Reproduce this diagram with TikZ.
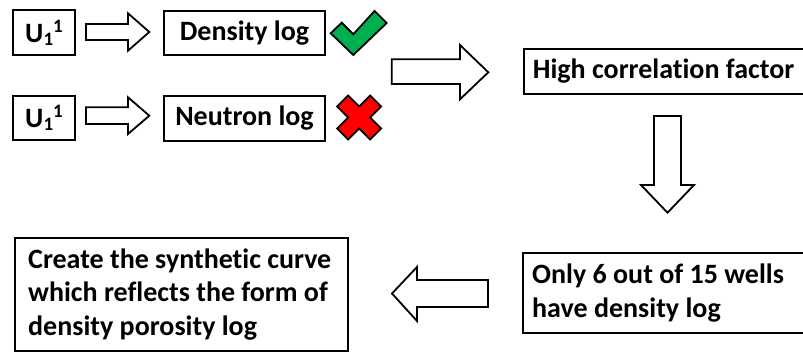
\documentclass[tikz,border=0pt]{standalone}
\usepackage{fontspec}
\setmainfont[Ligatures=NoCommon]{Carlito}
\definecolor{okgreen}{RGB}{0,176,80}
\definecolor{nored}{RGB}{255,0,0}
\newcommand{\smallone}[1]{\raisebox{#1}{\fontsize{19}{19}\selectfont 1}}
\begin{document}
\begin{tikzpicture}[x=1pt,y=-1pt,
  box/.style={draw=black, line width=2pt, inner sep=0pt, anchor=north west,
    font=\bfseries\fontsize{28}{33.5}\selectfont},
  txt/.style={inner sep=0pt, anchor=west, align=left,
    font=\bfseries\fontsize{28}{33.5}\selectfont},
  blockarrow/.style={draw=black, line width=1.8pt, fill=white, line join=miter},
  symbolshape/.style={draw=black, line width=1.8pt, line join=miter},
]
\useasboundingbox (0,0) rectangle (803,352);
\clip (0,0) rectangle (803,352);

% top-left boxes
\node[box, minimum width=62pt, minimum height=45pt] (u1) at (12,9)
  {U\smallone{-3pt}\smallone{10pt}};
\node[box, minimum width=161pt, minimum height=44pt] (dens) at (163,10) {Density log};
\node[box, minimum width=62pt, minimum height=44pt] (u2) at (12,95)
  {U\smallone{-3pt}\smallone{10pt}};
\node[box, minimum width=161pt, minimum height=45pt] (neut) at (163,95) {Neutron log};

% right / bottom boxes
\node[box, minimum width=300pt, minimum height=45pt] (high) at (522.7,48) {};
\node[txt] (hight) at ([xshift=10pt]high.west) {High correlation factor};
\node[box, minimum width=300pt, minimum height=80pt] (only) at (522,252) {};
\node[txt] (onlyt) at ([xshift=10pt]only.west) {Only 6 out of 15 wells\\have density log};
\node[box, minimum width=333pt, minimum height=113pt] (synth) at (14,237) {};
\node[txt] (syntht) at ([xshift=14pt]synth.west)
  {Create the synthetic curve\\which reflects the form of\\density porosity log};

% block arrows
\draw[blockarrow] (86,24) -- (128,24) -- (128,13.3) -- (149.3,32) -- (128,50.7) -- (128,40) -- (86,40) -- cycle;
\draw[blockarrow] (86,107.3) -- (128,107.3) -- (128,97.3) -- (149.3,115.7) -- (128,134) -- (128,124) -- (86,124) -- cycle;
\draw[blockarrow] (391.7,59.3) -- (460,59.3) -- (460,45) -- (488.3,72.3) -- (460,99.3) -- (460,84) -- (391.7,84) -- cycle;
\draw[blockarrow] (654,116) -- (681,116) -- (681,185) -- (694,185) -- (667.5,212.7) -- (641,185) -- (654,185) -- cycle;
\draw[blockarrow] (488,280) -- (417,280) -- (417,267) -- (392,293.5) -- (417,321) -- (417,307) -- (488,307) -- cycle;

% check mark
\draw[symbolshape, fill=okgreen] (330.7,33.3) -- (341.7,22.7) -- (353.3,34.3) -- (374.5,11) -- (386.7,23) -- (353.3,55) -- cycle;

% cross
\begin{scope}[shift={(359.2,117.5)}]
\draw[symbolshape, fill=nored] (-11,-22) -- (0,-11) -- (11,-22) -- (22,-11) -- (11,0) -- (22,11)
  -- (11,22) -- (0,11) -- (-11,22) -- (-22,11) -- (-11,0) -- (-22,-11) -- cycle;
\end{scope}
\end{tikzpicture}
\end{document}
